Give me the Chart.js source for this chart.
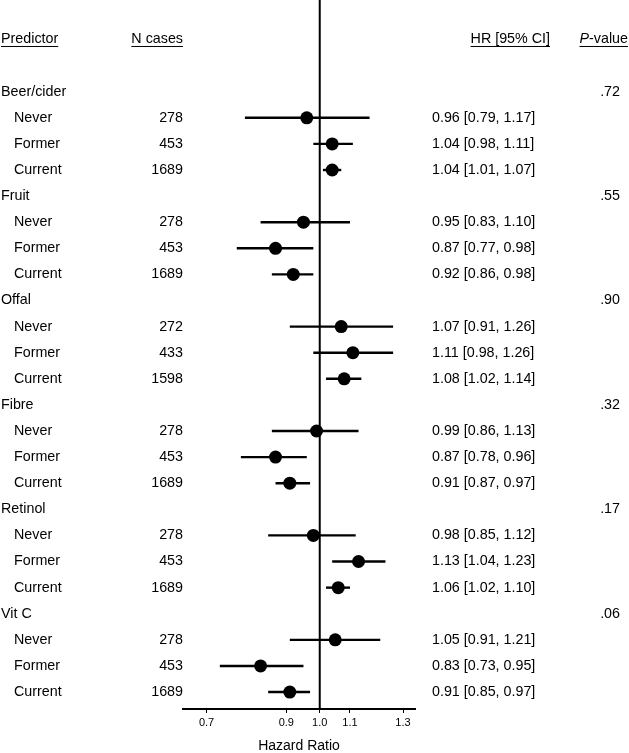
<!DOCTYPE html>
<html>
<head>
<meta charset="utf-8">
<script src="https://cdn.jsdelivr.net/npm/chart.js@4.4.1/dist/chart.umd.min.js"></script>
<style>
    html, body { margin: 0; padding: 0; background: #fff; }
</style>
</head>
<body>
<canvas id="forest" width="629" height="753"></canvas>
<script>
// predictors and their levels
const groups = ["Beer/cider", "Fruit", "Offal", "Fibre", "Retinol", "Vit C"];
const pValues = [".72", ".55", ".90", ".32", ".17", ".06"];
const levels = ["Never", "Former", "Current"];

// one entry per predictor, in level order Never / Former / Current
const nCases = [
    [278, 453, 1689],
    [278, 453, 1689],
    [272, 433, 1598],
    [278, 453, 1689],
    [278, 453, 1689],
    [278, 453, 1689]
];
const hr = [
    [0.96, 1.04, 1.04],
    [0.95, 0.87, 0.92],
    [1.07, 1.11, 1.08],
    [0.99, 0.87, 0.91],
    [0.98, 1.13, 1.06],
    [1.05, 0.83, 0.91]
];
const ciLow = [
    [0.79, 0.98, 1.01],
    [0.83, 0.77, 0.86],
    [0.91, 0.98, 1.02],
    [0.86, 0.78, 0.87],
    [0.85, 1.04, 1.02],
    [0.91, 0.73, 0.85]
];
const ciHigh = [
    [1.17, 1.11, 1.07],
    [1.10, 0.98, 0.98],
    [1.26, 1.26, 1.14],
    [1.13, 0.96, 0.97],
    [1.12, 1.23, 1.10],
    [1.21, 0.95, 0.97]
];
const xTicks = [0.7, 0.9, 1.0, 1.1, 1.3];

const FONT = '"Liberation Sans", Arial, Helvetica, sans-serif';
const FONT_SIZE = 14.3;

// row 0 is the header, row 1 blank, then 4 rows per predictor
const groupRow = g => 2 + g * 4;
const levelRow = (g, l) => 3 + g * 4 + l;

const ciSets = [];
const points = [];
groups.forEach((name, g) => {
    levels.forEach((lvl, l) => {
        const r = levelRow(g, l);
        ciSets.push({
            data: [{ x: ciLow[g][l], y: r }, { x: ciHigh[g][l], y: r }],
            showLine: true,
            borderColor: "#000",
            borderWidth: 2.4,
            pointRadius: 0
        });
        points.push({ x: hr[g][l], y: r });
    });
});

function drawText(ctx, str, x, y, align, italic) {
    ctx.font = (italic ? "italic " : "") + FONT_SIZE + "px " + FONT;
    ctx.textAlign = align;
    ctx.fillText(str, x, y);
}

function underline(ctx, x0, x1, y) {
    ctx.beginPath();
    ctx.moveTo(x0, y);
    ctx.lineTo(x1, y);
    ctx.stroke();
}

const forestTable = {
    id: "forestTable",
    beforeDatasetsDraw(chart) {
        const { ctx, chartArea, scales } = chart;
        const x1 = scales.x.getPixelForValue(1);
        ctx.save();
        ctx.strokeStyle = "#000";
        ctx.lineWidth = 2;
        ctx.beginPath();
        ctx.moveTo(x1, chartArea.top);
        ctx.lineTo(x1, chartArea.bottom);
        ctx.stroke();
        ctx.restore();
    },
    afterDraw(chart) {
        const ctx = chart.ctx;
        const y = chart.scales.y;
        ctx.save();
        ctx.fillStyle = "#000";
        ctx.strokeStyle = "#000";
        ctx.lineWidth = 1;
        ctx.textBaseline = "middle";

        // header
        const hy = y.getPixelForValue(0);
        const ul = hy + 7;
        ctx.font = FONT_SIZE + "px " + FONT;
        drawText(ctx, "Predictor", 1, hy, "left");
        underline(ctx, 1, 1 + ctx.measureText("Predictor").width, ul);
        drawText(ctx, "N cases", 183, hy, "right");
        underline(ctx, 183 - ctx.measureText("N cases").width, 183, ul);
        drawText(ctx, "HR [95% CI]", 550, hy, "right");
        underline(ctx, 550 - ctx.measureText("HR [95% CI]").width, 550, ul);

        ctx.font = "italic " + FONT_SIZE + "px " + FONT;
        const wP = ctx.measureText("P").width;
        ctx.font = FONT_SIZE + "px " + FONT;
        const wRest = ctx.measureText("-value").width;
        const pStart = 628 - wP - wRest;
        drawText(ctx, "P", pStart, hy, "left", true);
        drawText(ctx, "-value", pStart + wP, hy, "left");
        underline(ctx, pStart, 628, ul);

        groups.forEach((name, g) => {
            const gy = y.getPixelForValue(groupRow(g));
            drawText(ctx, name, 1, gy, "left");
            drawText(ctx, pValues[g], 620, gy, "right");
            levels.forEach((lvl, l) => {
                const ly = y.getPixelForValue(levelRow(g, l));
                drawText(ctx, lvl, 14, ly, "left");
                drawText(ctx, String(nCases[g][l]), 183, ly, "right");
                const label = hr[g][l].toFixed(2) + " [" + ciLow[g][l].toFixed(2) + ", " + ciHigh[g][l].toFixed(2) + "]";
                drawText(ctx, label, 432, ly, "left");
            });
        });
        ctx.restore();
    }
};

new Chart(document.getElementById("forest"), {
    type: "scatter",
    data: {
        datasets: [
            ...ciSets,
            {
                data: points,
                showLine: false,
                pointRadius: 6.5,
                pointHoverRadius: 6.5,
                pointBackgroundColor: "#000",
                pointBorderColor: "#000",
                pointBorderWidth: 0
            }
        ]
    },
    options: {
        responsive: false,
        animation: false,
        devicePixelRatio: 1,
        layout: { autoPadding: false, padding: { left: 183, right: 214, top: 0, bottom: 0 } },
        plugins: {
            legend: { display: false },
            tooltip: { enabled: false }
        },
        scales: {
            x: {
                type: "logarithmic",
                min: 0.65,
                max: 1.35,
                bounds: "data",
                afterBuildTicks: scale => {
                    scale.ticks = xTicks.map(v => ({ value: v }));
                },
                afterFit: scale => {
                    scale.height = 44;
                },
                ticks: {
                    color: "#000",
                    font: { family: FONT, size: 11 },
                    padding: 3,
                    maxRotation: 0,
                    autoSkip: false,
                    callback: v => Number(v).toFixed(1)
                },
                grid: {
                    drawOnChartArea: false,
                    drawTicks: true,
                    tickLength: 4,
                    color: "#000",
                    tickWidth: 1
                },
                border: { display: true, color: "#000", width: 2 },
                title: {
                    display: true,
                    text: "Hazard Ratio",
                    color: "#000",
                    font: { family: FONT, size: 14 },
                    padding: { top: 0, bottom: -2 }
                }
            },
            y: {
                type: "linear",
                display: false,
                reverse: true,
                min: -1.513,
                max: 25.65
            }
        }
    },
    plugins: [forestTable]
});
</script>
</body>
</html>
